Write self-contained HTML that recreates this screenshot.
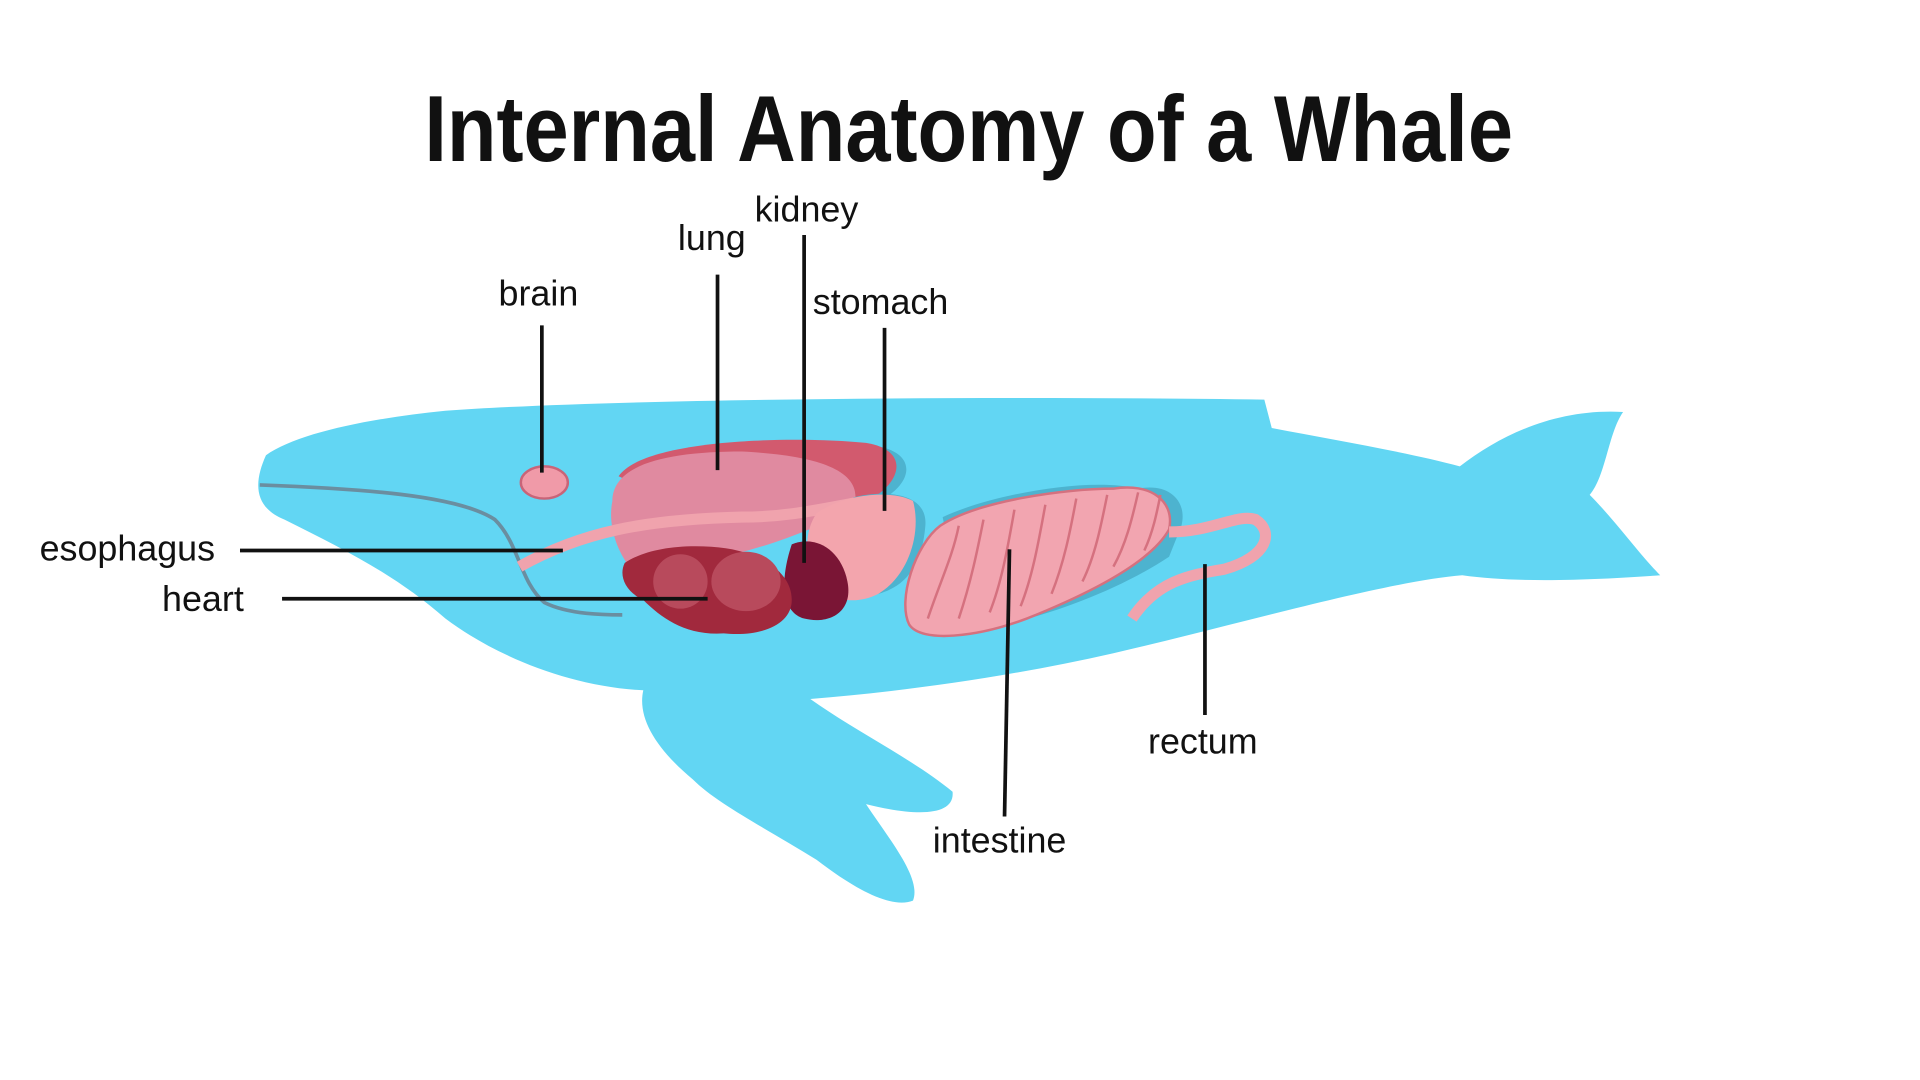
<!DOCTYPE html>
<html><head><meta charset="utf-8"><style>
html,body{margin:0;padding:0;background:#fff;width:1920px;height:1080px;overflow:hidden}
svg{display:block}
text{font-family:"Liberation Sans",sans-serif;fill:#111}
</style></head><body>
<svg width="1920" height="1080" viewBox="0 0 1552 873" xmlns="http://www.w3.org/2000/svg">
<text x="783" y="130" text-anchor="middle" font-size="76" font-weight="bold" style="font-family:'Liberation Sans Narrow','Liberation Sans',sans-serif" textLength="880" lengthAdjust="spacingAndGlyphs">Internal Anatomy of a Whale</text>
<path fill="#62d6f3" d="M215,368 C240,350 300,338 360,332 C500,322 800,320 1022,323 L1028,346 C1080,356 1140,366 1180,377 C1215,350 1260,330 1312,333 C1300,350 1298,385 1285,400 C1305,420 1325,448 1342,465 C1300,468 1230,472 1182,465 C1120,470 1000,505 900,528 C820,546 740,558 655,565 C690,590 740,615 770,640 C772,660 740,660 700,650 C720,680 745,710 738,728 C720,735 690,718 660,695 C620,670 580,650 560,630 C530,605 515,580 520,558 C460,555 400,530 360,500 C320,465 280,445 230,420 C205,410 205,390 215,368 Z"/>
<path d="M210,392 C290,395 370,400 400,420 C420,440 420,470 440,487 C460,497 490,497 503,497" fill="none" stroke="#6a8ea0" stroke-width="3"/>
<path fill="#4db3cf" d="M506,385 C540,355 640,355 705,360 C745,365 740,395 700,410 L680,420 Z"/>
<path fill="#d25a6e" d="M500,385 C520,355 640,352 700,358 C738,364 730,395 690,410 L600,430 Z"/>
<path fill="#e08aa0" d="M495,405 C495,375 540,365 600,365 C660,368 700,380 690,410 C640,440 560,460 510,460 C495,440 492,420 495,405 Z"/>
<path d="M420,458 C470,430 520,420 600,418 C640,418 670,410 700,405" fill="none" stroke="#f0a3ad" stroke-width="9"/>
<path fill="#4db3cf" d="M690,402 C720,395 750,400 748,425 C745,460 730,478 700,482 C680,484 670,470 665,455 Z"/>
<path fill="#f3a5ad" d="M660,415 C680,400 720,395 738,405 C745,430 735,465 710,480 C690,490 670,485 660,470 C650,450 650,430 660,415 Z"/>
<path fill="#7a1535" d="M640,440 C660,432 680,445 685,470 C690,495 670,505 650,500 C632,495 630,470 640,440 Z"/>
<path fill="#a1293d" d="M505,455 C520,445 545,440 575,442 C610,444 640,460 640,485 C640,505 615,515 585,512 C555,514 535,500 520,485 C505,478 500,465 505,455 Z"/>
<ellipse cx="550" cy="470" rx="22" ry="22" fill="#b84a5c"/>
<ellipse cx="603" cy="470" rx="28" ry="24" fill="#b84a5c"/>
<ellipse cx="440" cy="390" rx="19" ry="13" fill="#f09aa8" stroke="#c96478" stroke-width="2"/>
<path fill="#4db3cf" d="M762,418 C800,400 880,385 920,395 C945,390 960,405 955,425 L945,450 C900,480 830,505 780,510 Z"/>
<path fill="#f2a5b0" stroke="#d5717f" stroke-width="2" d="M760,425 C790,405 860,395 900,395 C930,390 950,405 945,428 C930,455 880,480 830,500 C790,515 745,520 735,505 C725,485 740,440 760,425 Z"/>
<path d="M750,500 C760,470 770,450 775,425 M775,500 C785,470 790,445 795,420 M800,495 C810,470 815,440 820,412 M825,490 C835,465 840,435 845,408 M850,480 C860,455 865,430 870,403 M875,470 C885,450 890,425 895,400 M900,458 C910,440 915,420 920,398 M925,445 C932,430 935,415 938,400" fill="none" stroke="#d5717f" stroke-width="2"/>
<path d="M945,430 C980,430 1000,415 1015,420 C1030,430 1025,450 990,460 C960,465 935,470 915,500" fill="none" stroke="#f0a3ad" stroke-width="9"/>
<g stroke="#111" stroke-width="3" fill="none">
<line x1="438" y1="263" x2="438" y2="382"/>
<line x1="580" y1="222" x2="580" y2="380"/>
<line x1="650" y1="190" x2="650" y2="455"/>
<line x1="715" y1="265" x2="715" y2="413"/>
<line x1="194" y1="445" x2="455" y2="445"/>
<line x1="228" y1="484" x2="572" y2="484"/>
<line x1="816" y1="444" x2="812" y2="660"/>
<line x1="974" y1="456" x2="974" y2="578"/>
</g>
<g font-size="29">
<text x="403" y="247">brain</text>
<text x="548" y="202">lung</text>
<text x="610" y="179">kidney</text>
<text x="657" y="254">stomach</text>
<text x="32" y="453">esophagus</text>
<text x="131" y="494">heart</text>
<text x="754" y="689">intestine</text>
<text x="928" y="609">rectum</text>
</g>
</svg>
</body></html>
